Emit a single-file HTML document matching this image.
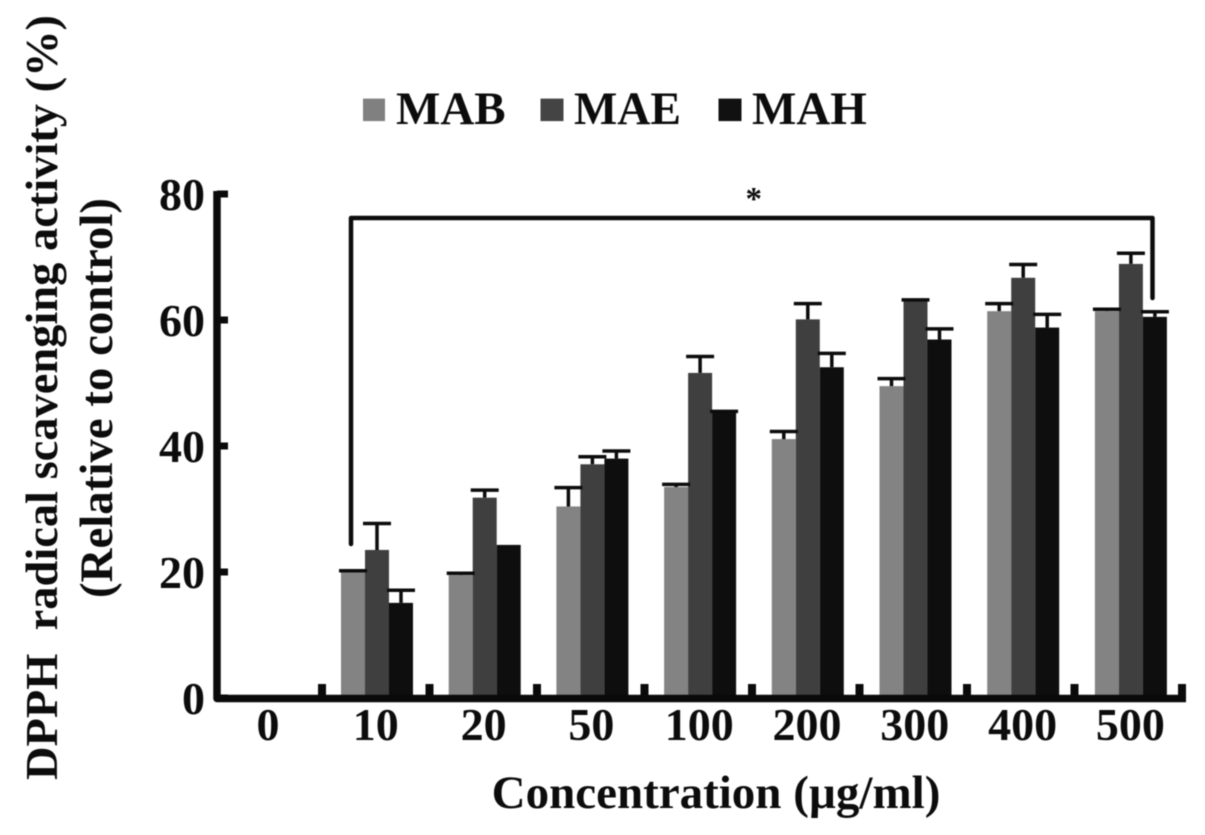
<!DOCTYPE html>
<html>
<head>
<meta charset="utf-8">
<style>
html,body{margin:0;padding:0;background:#fff;}
svg{display:block;filter:blur(0.4px);}
text{font-family:"Liberation Serif",serif;font-weight:bold;fill:#0c0c0c;}
</style>
</head>
<body>
<svg id="chart" width="1205" height="835" viewBox="0 0 1205 835" xmlns="http://www.w3.org/2000/svg">
<g id="bars"></g>
<g id="axes"></g>
<g>
<polyline points="351,544 351,218 1152.5,218 1152.5,298" fill="none" stroke="#0c0c0c" stroke-width="4.5" stroke-linecap="round" stroke-linejoin="round"/>
<text x="753.7" y="209.5" font-size="33" text-anchor="middle">*</text>
</g>
<g>
<rect x="363" y="98.6" width="22" height="22.5" fill="#808080"/>
<text x="396" y="124" font-size="47">MAB</text>
<rect x="540.5" y="98.6" width="23" height="22.5" fill="#444444"/>
<text x="574" y="124" font-size="47" textLength="107" lengthAdjust="spacingAndGlyphs">MAE</text>
<rect x="718.5" y="98.6" width="23" height="22.5" fill="#111111"/>
<text x="752" y="124" font-size="47">MAH</text>
</g>
<text x="716" y="808" font-size="47" text-anchor="middle">Concentration (µg/ml)</text>
<text transform="translate(57,780) rotate(-90)" font-size="46" style="white-space:pre" textLength="765" lengthAdjust="spacingAndGlyphs">DPPH  radical scavenging activity (%)</text>
<text transform="translate(112,598) rotate(-90)" font-size="47" textLength="400" lengthAdjust="spacingAndGlyphs">(Relative to control)</text>
</svg>
<script>
var categories = ['0', '10', '20', '50', '100', '200', '300', '400', '500'];
var yTicks = [0, 20, 40, 60, 80];
var seriesNames = ['MAB', 'MAE', 'MAH'];
var mab = [0, 20.0, 19.5, 30.4, 33.5, 41.1, 49.5, 61.4, 61.4];
var mae = [0, 23.5, 31.8, 37.1, 51.6, 60.1, 63.1, 66.7, 68.9];
var mah = [0, 15.1, 24.3, 38.0, 45.4, 52.5, 56.9, 58.8, 60.5];
var mabErr = [0, 0.2, 0.3, 3.0, 0.4, 1.2, 1.2, 1.2, 0.3];
var maeErr = [0, 4.2, 1.2, 1.2, 2.6, 2.5, 0.1, 2.1, 1.7];
var mahErr = [0, 2.0, 0, 1.2, 0.1, 2.2, 1.7, 2.1, 0.8];

var svgNS = 'http://www.w3.org/2000/svg';
var barsLayer = document.getElementById('bars');
var axesLayer = document.getElementById('axes');
var y0 = 698, y80 = 194;
var barW = 24, capW = 28;
function yScale(v) { return y0 - (y0 - y80) * v / 80; }
function groupLeft(i) { return 233.3 + 107.7 * i; }
function xTickPos(i) { return 322 + 107.5 * i; }
function labelX(i) { return 268 + 107.8 * i; }
function make(tag, attrs, parent) {
  var el = document.createElementNS(svgNS, tag);
  for (var k in attrs) { el.setAttribute(k, attrs[k]); }
  parent.appendChild(el);
  return el;
}
var colors = ['#838383', '#3f3f3f', '#0e0e0e'];
var seriesData = [mab, mae, mah];
var seriesErr = [mabErr, maeErr, mahErr];

categories.forEach(function (c, i) {
  seriesData.forEach(function (vals, s) {
    var v = vals[i];
    if (v <= 0) { return; }
    var left = groupLeft(i) + s * barW;
    var top = yScale(v);
    var bar = make('rect', { x: left, y: top, width: barW, height: y0 - top, fill: colors[s] }, barsLayer);
    
    
  });
});
categories.forEach(function (c, i) {
  seriesData.forEach(function (vals, s) {
    var v = vals[i];
    var e = seriesErr[s][i];
    if (v <= 0 || e <= 0) { return; }
    var cx = groupLeft(i) + s * barW + barW / 2;
    var top = yScale(v);
    var errTop = yScale(v + e);
    var err = make('path', { d: 'M' + cx + ' ' + top + 'V' + errTop + 'M' + (cx - capW / 2) + ' ' + errTop + 'H' + (cx + capW / 2), stroke: '#0c0c0c', 'stroke-width': 3.5, fill: 'none' }, barsLayer);
    
    
  });
});

var axisPath = make('path', { d: 'M217 191V' + (y0 + 0.5) + 'H1186', stroke: '#0a0a0a', 'stroke-width': 7.5, fill: 'none', 'stroke-linejoin': 'round' }, axesLayer);



yTicks.forEach(function (t) {
  var y = yScale(t);
  var tick = make('line', { x1: 217, y1: y, x2: 228, y2: y, stroke: '#0a0a0a', 'stroke-width': 7 }, axesLayer);
  
  
  var label = make('text', { x: 205, y: y + 16, 'font-size': 46, 'text-anchor': 'end' }, axesLayer);
  label.textContent = t;
  
  
});
categories.forEach(function (c, i) {
  var tx = xTickPos(i);
  var tick = make('line', { x1: tx, y1: y0 - 14, x2: tx, y2: y0, stroke: '#0a0a0a', 'stroke-width': 8 }, axesLayer);
  
  
  var label = make('text', { x: labelX(i), y: 740, 'font-size': 46, 'text-anchor': 'middle' }, axesLayer);
  label.textContent = c;
  
  
});
</script>
</body>
</html>
